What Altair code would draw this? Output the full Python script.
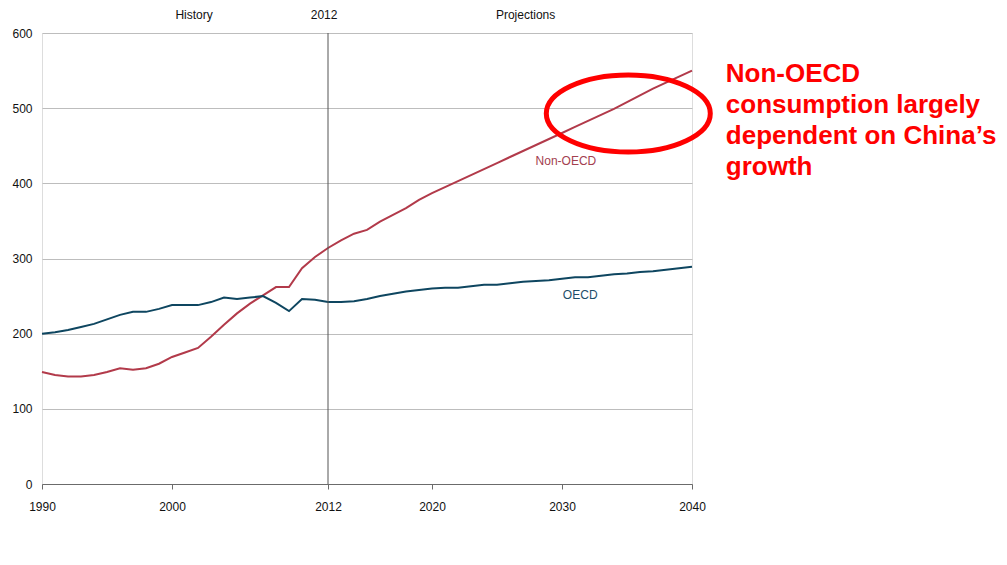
import altair as alt
import pandas as pd

years = list(range(1990, 2041))
non_oecd = [149, 145, 143, 143, 145, 149, 154, 152, 154, 160,
            169, 175, 181, 196, 212, 227, 240, 251, 262, 262,
            287, 302, 314, 324, 333, 338, 349, 358, 367, 378,
            387, 395, 403, 411, 419, 427, 435, 443, 451, 459,
            467, 475, 483, 491, 499, 508, 517, 526, 534, 542,
            550]
oecd = [200, 202, 205, 209, 213, 219, 225, 229, 229, 233,
        238, 238, 238, 242, 248, 246, 248, 250, 241, 230,
        246, 245, 242, 242, 243, 246, 250, 253, 256, 258,
        260, 261, 261, 263, 265, 265, 267, 269, 270, 271,
        273, 275, 275, 277, 279, 280, 282, 283, 285, 287,
        289]
series_names = ["Non-OECD", "OECD"]
series_colors = ["#b23a4a", "#0e4660"]
x_ticks = [1990, 2000, 2012, 2020, 2030, 2040]
y_ticks = [0, 100, 200, 300, 400, 500, 600]
divider_year = 2012
top_labels = ["History", "2012", "Projections"]
top_label_years = [2001.7, 2011.7, 2027.2]
series_label_pos = [(2030.3, 430), (2031.4, 252)]
series_label_colors = ["#a3404f", "#1c4d68"]
ellipse_center = (2035.1, 493)
note_lines = ["Non-OECD", "consumption largely", "dependent on China\u2019s", "growth"]
note_pos = (2042.6, 545)

rows = []
for y, a, b in zip(years, non_oecd, oecd):
    rows.append({"year": y, "series": "Non-OECD", "value": a})
    rows.append({"year": y, "series": "OECD", "value": b})
df = pd.DataFrame(rows)

W, H = 650, 451
xscale = alt.Scale(domain=[1990, 2040], nice=False, zero=False)
yscale = alt.Scale(domain=[0, 600], nice=False)

base = alt.Chart(df)

lines = base.mark_line(strokeWidth=2).encode(
    x=alt.X("year:Q", scale=xscale,
            axis=alt.Axis(values=x_ticks, format="d", title=None, grid=False,
                          domainColor="#6b6b6b", tickColor="#6b6b6b", tickSize=5,
                          labelPadding=12, labelFontSize=12, labelColor="#111",
                          labelFont="Liberation Sans", labelFlush=False)),
    y=alt.Y("value:Q", scale=yscale,
            axis=alt.Axis(values=y_ticks, title=None, domain=False, ticks=False,
                          gridColor="#bdbdbd", labelPadding=10, labelFontSize=12,
                          labelColor="#111", labelFont="Liberation Sans")),
    color=alt.Color("series:N", scale=alt.Scale(domain=series_names, range=series_colors),
                    legend=None),
)

rule_df = pd.DataFrame({"year": [divider_year], "y0": [0], "y1": [600]})
rule = alt.Chart(rule_df).mark_rule(color="#555555", strokeWidth=1).encode(
    x=alt.X("year:Q", scale=xscale), y=alt.Y("y0:Q", scale=yscale), y2="y1:Q")

top_df = pd.DataFrame({"label": top_labels, "year": top_label_years, "v": [624] * 3})
top_text = alt.Chart(top_df).mark_text(fontSize=12, font="Liberation Sans", color="#111",
                                       align="center", baseline="middle").encode(
    x=alt.X("year:Q", scale=xscale), y=alt.Y("v:Q", scale=yscale), text="label:N")

lab_df = pd.DataFrame({"label": series_names,
                       "year": [p[0] for p in series_label_pos],
                       "v": [p[1] for p in series_label_pos],
                       "c": series_label_colors})
lab_text = alt.Chart(lab_df).mark_text(fontSize=12, font="Liberation Sans",
                                       align="center", baseline="middle").encode(
    x=alt.X("year:Q", scale=xscale), y=alt.Y("v:Q", scale=yscale), text="label:N",
    color=alt.Color("c:N", scale=None))

ell_df = pd.DataFrame({"year": [ellipse_center[0]], "v": [ellipse_center[1]]})
ellipse = alt.Chart(ell_df).mark_point(
    shape="M -1 0 A 1 0.47 0 1 0 1 0 A 1 0.47 0 1 0 -1 0 Z",
    size=164 * 164, filled=False, stroke="#ff0000", strokeWidth=5, opacity=1).encode(
    x=alt.X("year:Q", scale=xscale), y=alt.Y("v:Q", scale=yscale))

note_df = pd.DataFrame({"t": ["\n".join(note_lines)], "year": [note_pos[0]], "v": [note_pos[1]]})
note = alt.Chart(note_df).mark_text(fontSize=26, font="Liberation Sans", fontWeight="bold",
                                    color="#ff0000", align="left", baseline="middle",
                                    lineBreak="\n", lineHeight=31).encode(
    x=alt.X("year:Q", scale=xscale), y=alt.Y("v:Q", scale=yscale), text="t:N")

chart = alt.layer(lines, rule, top_text, lab_text, ellipse, note).properties(
    width=W, height=H,
    autosize=alt.AutoSizeParams(type="none"),
    padding={"left": 34, "top": 25, "right": 307, "bottom": 60},
).configure_view(stroke=None).configure(background="white")

chart.save("out.html", embed_options={"renderer": "svg", "actions": False})
